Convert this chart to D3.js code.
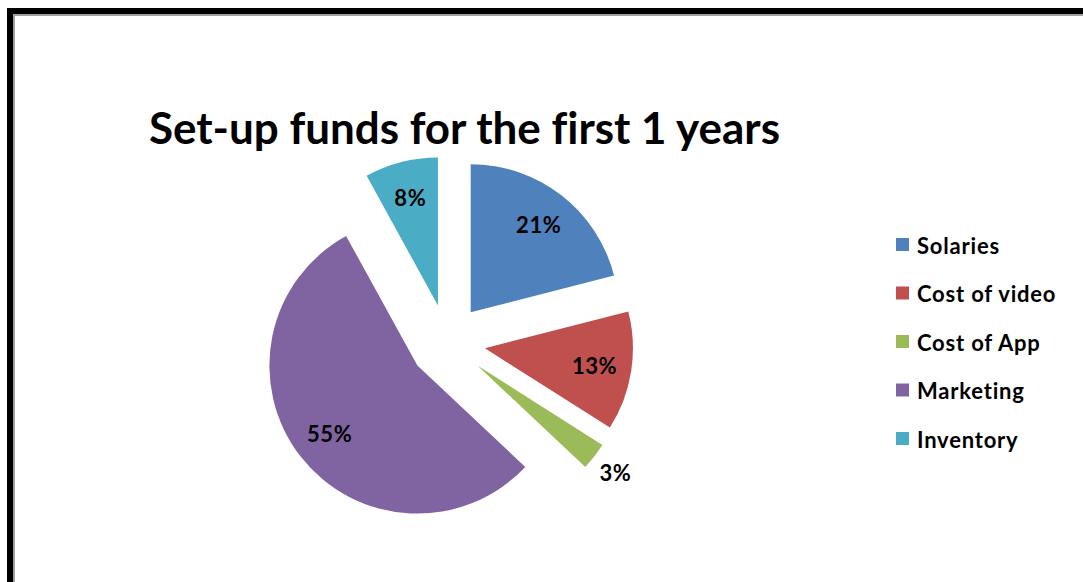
<!DOCTYPE html>
<html>
<head>
<meta charset="utf-8">
<script src="https://cdn.jsdelivr.net/npm/d3@7"></script>
<style>
  html, body { margin: 0; padding: 0; background: #fff; }
  svg { display: block; }
  text { font-family: Lato, "Open Sans", sans-serif; font-weight: 700; fill: #000;
         font-variant-ligatures: none; font-feature-settings: "liga" 0, "clig" 0; }
</style>
</head>
<body>
<svg id="chart" width="1083" height="582"></svg>
<script>
// Set-up fund shares (percent)
const categories = ["Solaries", "Cost of video", "Cost of App", "Marketing", "Inventory"];
const values = [21, 13, 3, 55, 8];
const colors = ["#4F81BD", "#C0504D", "#9BBB59", "#8064A2", "#4BACC6"];
const titleText = "Set-up funds for the first 1 years";

const svg = d3.select("#chart");
const W = 1083, H = 582;

// Frame: heavy black border with thin grey inner line
svg.append("rect").attr("x", 0).attr("y", 0).attr("width", W).attr("height", H).attr("fill", "#fff");
svg.append("path")
  .attr("d", `M10,${H + 10} L10,11 L${W + 10},11`)
  .attr("fill", "none").attr("stroke", "#000").attr("stroke-width", 6);
svg.append("path")
  .attr("d", `M14,${H + 10} L14,15 L${W + 10},15`)
  .attr("fill", "none").attr("stroke", "#a0a0a0").attr("stroke-width", 2);

// Title
svg.append("text")
  .attr("x", 149).attr("y", 143.5)
  .attr("font-size", 44)
  .attr("textLength", 631).attr("lengthAdjust", "spacingAndGlyphs")
  .text(titleText);

// Exploded pie
const cx = 447.4, cy = 342.3, R = 148, explode = 38, labelR = 111;
const pie = d3.pie().sort(null).value(d => d.value).startAngle(0).endAngle(2 * Math.PI);
const data = categories.map((c, i) => ({ name: c, value: values[i], color: colors[i] }));
const arcs = pie(data);
const arc = d3.arc().innerRadius(0).outerRadius(R);
const total = d3.sum(values);

const g = svg.append("g").attr("transform", `translate(${cx},${cy})`);
const slices = g.selectAll("g.slice").data(arcs).enter().append("g")
  .attr("class", "slice")
  .attr("transform", d => {
    const m = (d.startAngle + d.endAngle) / 2;
    return `translate(${Math.sin(m) * explode},${-Math.cos(m) * explode})`;
  });

slices.append("path")
  .attr("d", arc)
  .attr("fill", d => d.data.color);

const labelPos = d => {
  const m = (d.startAngle + d.endAngle) / 2;
  const r = d.data.value < 5 ? R * 1.18 : labelR;
  return [Math.sin(m) * r, -Math.cos(m) * r];
};
slices.append("text")
  .attr("text-anchor", "middle")
  .attr("dominant-baseline", "central")
  .attr("font-size", 22)
  .attr("letter-spacing", 0.6)
  .attr("x", d => labelPos(d)[0])
  .attr("y", d => labelPos(d)[1])
  .text(d => Math.round(d.data.value / total * 100) + "%");

// Legend
const legend = svg.append("g").attr("transform", "translate(896,238)");
const rowH = 48.5;
const items = legend.selectAll("g").data(data).enter().append("g")
  .attr("transform", (d, i) => `translate(0,${i * rowH})`);
items.append("rect").attr("width", 13).attr("height", 13).attr("fill", d => d.color);
items.append("text")
  .attr("x", 21).attr("y", 7)
  .attr("dominant-baseline", "central")
  .attr("font-size", 22)
  .attr("letter-spacing", 0.8)
  .text(d => d.name);
</script>
</body>
</html>
